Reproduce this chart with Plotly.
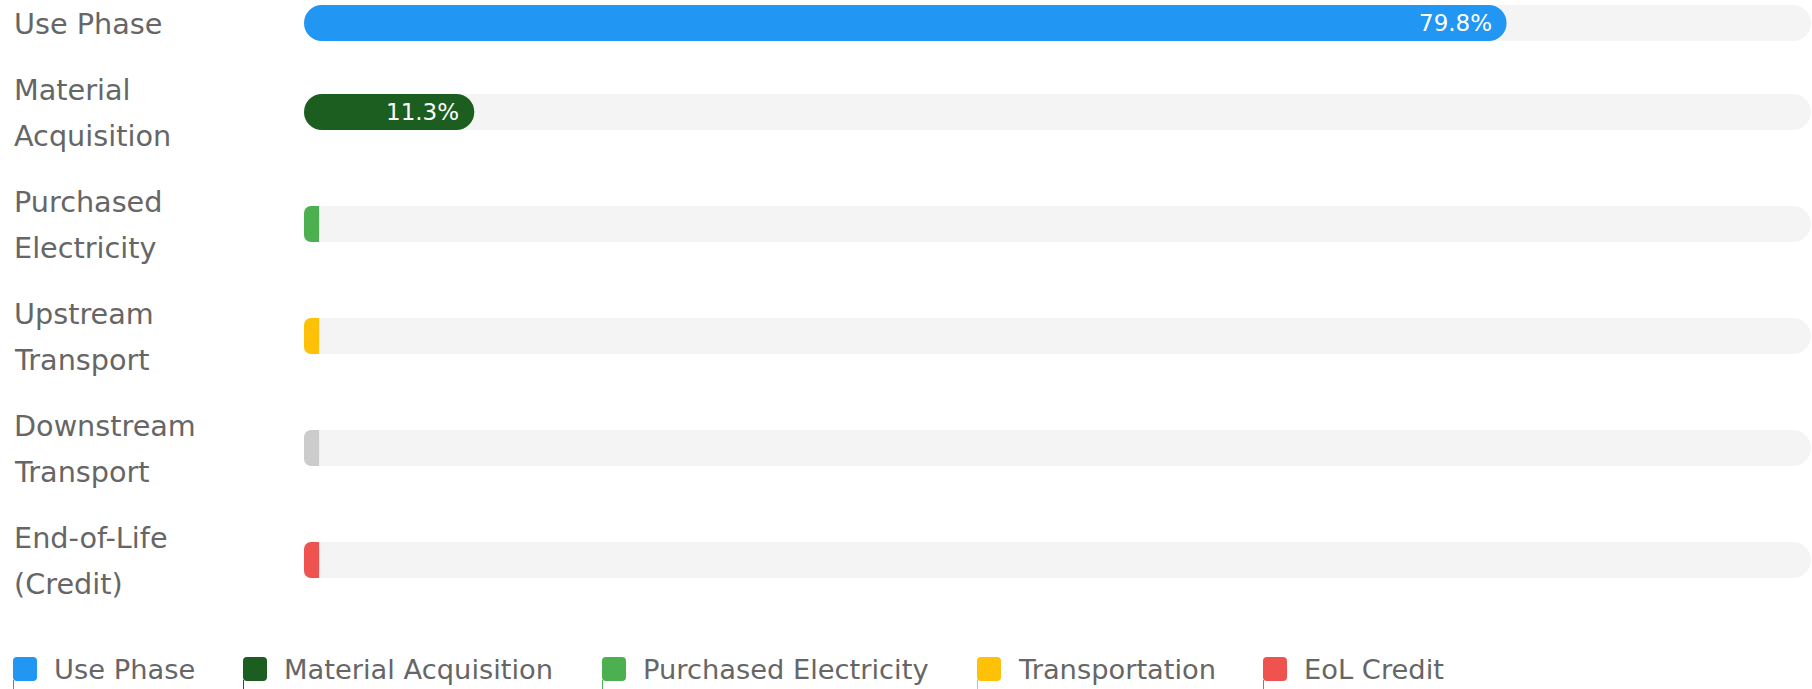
import textwrap
import plotly.graph_objects as go

# ---------------- data ----------------
categories = ["Use Phase", "Material Acquisition", "Purchased Electricity",
              "Upstream Transport", "Downstream Transport", "End-of-Life (Credit)"]
shares = [79.8, 11.3, 1.0, 1.0, 1.0, 1.0]
bar_colors = ["#2196F3", "#1B5E20", "#4CAF50", "#FFC107", "#CCCCCC", "#EF5350"]
legend_names = ["Use Phase", "Material Acquisition", "Purchased Electricity",
                "Transportation", "EoL Credit"]
legend_colors = ["#2196F3", "#1B5E20", "#4CAF50", "#FFC107", "#EF5350"]
x_max = 100.0

# ---------------- layout constants ----------------
W, H = 1812, 689
ML, MR = 304, 1
PLOT_W = W - ML - MR
LINE = 46
GAP = 20
BAR_T = 36
RADIUS = 18
TRACK = "#F4F4F4"
TXT = "#666666"
FONT = "DejaVu Sans"

wrapped = [textwrap.wrap(c, 12, break_on_hyphens=False) for c in categories]
centers = []
top = 0
for lines in wrapped:
    h = len(lines) * LINE
    centers.append(top + h / 2)
    top += h + GAP
PLOT_H = top - GAP
MB = H - PLOT_H

cap = RADIUS / PLOT_W * x_max  # data units of one corner radius

fig = go.Figure()

common = dict(y=centers, orientation="h", width=BAR_T, showlegend=False,
              hoverinfo="skip", opacity=1)

# background tracks
fig.add_trace(go.Bar(x=[x_max] * len(categories), base=[0] * len(categories),
                     marker=dict(color=TRACK, line=dict(width=0), cornerradius=RADIUS),
                     **common))
# value pills
fig.add_trace(go.Bar(x=shares, base=[0] * len(shares),
                     marker=dict(color=bar_colors, line=dict(width=0), cornerradius=RADIUS),
                     **common))
# flatten the right end of pills too short for a full rounding
short = [v < 2 * cap for v in shares]
fig.add_trace(go.Bar(x=[v / 2 if s else 0 for v, s in zip(shares, short)],
                     base=[v / 2 for v in shares],
                     marker=dict(color=bar_colors, line=dict(width=0), cornerradius=0),
                     **common))

annotations = []
# value labels
for v, c in zip(shares, centers):
    if v >= 5:
        annotations.append(dict(x=v, y=c, xref="x", yref="y", text=f"{v:.1f}%",
                                showarrow=False, xanchor="right", yanchor="middle",
                                xshift=-13, font=dict(family=FONT, size=23, color="white")))
# category labels
for lines, c in zip(wrapped, centers):
    n = len(lines)
    for j, ln in enumerate(lines):
        annotations.append(dict(x=0, y=c, xref="paper", yref="y", text=ln,
                                showarrow=False, xanchor="left", yanchor="middle",
                                xshift=12 - ML, yshift=((n - 1) / 2 - j) * LINE - 1,
                                font=dict(family=FONT, size=28.7, color=TXT)))

# custom legend
def px2paper(px, py):
    return (px - ML) / PLOT_W, (PLOT_H - py) / PLOT_H

def P(px, py):
    a, b = px2paper(px, py)
    return f"{a:.6f},{b:.6f}"

legend_x = [13, 243, 602, 977, 1263]
LEG_Y = 669
SW = 24
R = 4
shapes = []
for x0, name, col in zip(legend_x, legend_names, legend_colors):
    y0, y1 = LEG_Y - SW / 2, LEG_Y + SW / 2
    x1 = x0 + SW
    path = (f"M{P(x0 + R, y0)} L{P(x1 - R, y0)} Q{P(x1, y0)} {P(x1, y0 + R)} "
            f"L{P(x1, y1 - R)} Q{P(x1, y1)} {P(x1 - R, y1)} L{P(x0 + R, y1)} "
            f"Q{P(x0, y1)} {P(x0, y1 - R)} L{P(x0, y0 + R)} Q{P(x0, y0)} {P(x0 + R, y0)} Z")
    shapes.append(dict(type="path", xref="paper", yref="paper", path=path,
                       fillcolor=col, line=dict(width=0)))
    lx, ly0 = px2paper(x0 + 0.5, y1 - 1)
    _, ly1 = px2paper(x0 + 0.5, H)
    shapes.append(dict(type="line", xref="paper", yref="paper", x0=lx, x1=lx,
                       y0=ly0, y1=ly1, line=dict(color=col, width=1)))
    tx, ty = px2paper(x0 + 40, LEG_Y)
    annotations.append(dict(x=tx, y=ty, xref="paper", yref="paper", text=name,
                            showarrow=False, xanchor="left", yanchor="middle",
                            xshift=-1,
                            font=dict(family=FONT, size=27.3, color=TXT)))

fig.update_layout(
    width=W, height=H,
    margin=dict(l=ML, r=MR, t=0, b=MB, pad=0),
    paper_bgcolor="white", plot_bgcolor="white",
    barmode="overlay",
    showlegend=False,
    xaxis=dict(range=[0, x_max], visible=False, fixedrange=True),
    yaxis=dict(range=[PLOT_H, 0], visible=False, fixedrange=True),
    annotations=annotations,
    shapes=shapes,
    font=dict(family=FONT, color=TXT),
)

fig.write_html("out.html",
               config={"displayModeBar": False},
               post_script="document.body.style.margin='0';document.body.style.overflow='hidden';")
